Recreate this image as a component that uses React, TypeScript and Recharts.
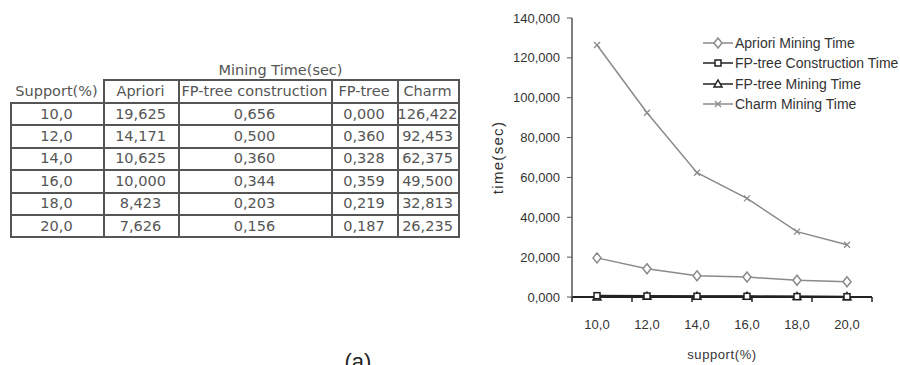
import React from 'react';
import { LineChart, Line, XAxis, YAxis } from 'recharts';

// support thresholds (%), shown with decimal comma like the source
const supports = ['10,0', '12,0', '14,0', '16,0', '18,0', '20,0'];

// mining times in seconds
const aprioriTime = [19.625, 14.171, 10.625, 10.0, 8.423, 7.626];
const fpConstructionTime = [0.656, 0.5, 0.36, 0.344, 0.203, 0.156];
const fpMiningTime = [0.0, 0.36, 0.328, 0.359, 0.219, 0.187];
const charmTime = [126.422, 92.453, 62.375, 49.5, 32.813, 26.235];

const yTicks = [0, 20, 40, 60, 80, 100, 120, 140];
const boundaryTicks = [0, 1, 2, 3, 4, 5, 6];

const fmt = (v: number) => v.toFixed(3).replace('.', ',');

const data = supports.map((s, i) => ({
  support: s,
  apriori: aprioriTime[i],
  fpConstruction: fpConstructionTime[i],
  fpMining: fpMiningTime[i],
  charm: charmTime[i],
}));

const GRAY = '#8a8a8a';
const DARK = '#222';

function Diamond({ cx, cy, color }: any) {
  return (
    <path
      d={`M${cx},${cy - 5}L${cx + 4},${cy}L${cx},${cy + 5}L${cx - 4},${cy}Z`}
      fill="#fff"
      stroke={color}
      strokeWidth={1.5}
    />
  );
}

function Square({ cx, cy, color }: any) {
  return <rect x={cx - 3} y={cy - 3} width={6} height={6} fill="#fff" stroke={color} strokeWidth={1.5} />;
}

function Triangle({ cx, cy, color }: any) {
  return (
    <path
      d={`M${cx},${cy - 4}L${cx + 4},${cy + 3}L${cx - 4},${cy + 3}Z`}
      fill="#fff"
      stroke={color}
      strokeWidth={1.5}
    />
  );
}

function Cross({ cx, cy, color }: any) {
  return (
    <g stroke={color} strokeWidth={1.3}>
      <line x1={cx - 3} y1={cy - 3} x2={cx + 3} y2={cy + 3} />
      <line x1={cx - 3} y1={cy + 3} x2={cx + 3} y2={cy - 3} />
    </g>
  );
}

const legendItems = [
  { name: 'Apriori Mining Time', color: GRAY, Mark: Diamond },
  { name: 'FP-tree Construction Time', color: DARK, Mark: Square },
  { name: 'FP-tree Mining Time', color: DARK, Mark: Triangle },
  { name: 'Charm Mining Time', color: GRAY, Mark: Cross },
];

function ChartLegend() {
  return (
    <div
      style={{
        position: 'absolute',
        left: 703,
        top: 33,
        fontFamily: 'Liberation Sans, Arial, sans-serif',
        fontSize: 14,
        color: '#333',
      }}
    >
      {legendItems.map(({ name, color, Mark }) => (
        <div key={name} style={{ display: 'flex', alignItems: 'center', height: 20.3, whiteSpace: 'nowrap' }}>
          <svg width={30} height={20} style={{ marginRight: 2 }}>
            <line x1={0} y1={10} x2={30} y2={10} stroke={color} strokeWidth={1.5} />
            <Mark cx={15} cy={10} color={color} />
          </svg>
          {name}
        </div>
      ))}
    </div>
  );
}

const colLeft = [10, 103, 178, 331, 397, 458];
const headers = ['Support(%)', 'Apriori', 'FP-tree construction', 'FP-tree', 'Charm'];
const LINE = '#555';

function DataTable() {
  const headerTop = 79;
  const bodyTop = 102;
  const rowH = 22.4;
  const bottom = bodyTop + rowH * supports.length;
  const text: React.CSSProperties = {
    position: 'absolute',
    textAlign: 'center',
    fontFamily: 'DejaVu Sans, Verdana, sans-serif',
    fontSize: 14.5,
    color: '#555',
    whiteSpace: 'nowrap',
  };
  const rows = supports.map((s, i) => [
    s,
    fmt(aprioriTime[i]),
    fmt(fpConstructionTime[i]),
    fmt(fpMiningTime[i]),
    fmt(charmTime[i]),
  ]);
  return (
    <div style={{ position: 'absolute', left: 0, top: 0, width: 480, height: 260 }}>
      <div style={{ ...text, left: colLeft[1], width: colLeft[5] - colLeft[1], top: 61, lineHeight: '18px' }}>
        Mining Time(sec)
      </div>
      {/* horizontal rules */}
      <div style={{ position: 'absolute', left: colLeft[1], width: colLeft[5] - colLeft[1], top: headerTop, height: 2, background: LINE }} />
      {supports.map((_, i) => (
        <div
          key={'h' + i}
          style={{ position: 'absolute', left: colLeft[0], width: colLeft[5] - colLeft[0], top: bodyTop + rowH * i, height: 2, background: LINE }}
        />
      ))}
      <div style={{ position: 'absolute', left: colLeft[0], width: colLeft[5] - colLeft[0] + 2, top: bottom, height: 2, background: LINE }} />
      {/* vertical rules */}
      {colLeft.map((x, j) => (
        <div
          key={'v' + j}
          style={{
            position: 'absolute',
            left: x,
            width: 2,
            top: j === 0 ? bodyTop : headerTop,
            height: bottom - (j === 0 ? bodyTop : headerTop),
            background: LINE,
          }}
        />
      ))}
      {headers.map((h, j) => (
        <div
          key={h}
          style={{ ...text, left: colLeft[j], width: colLeft[j + 1] - colLeft[j], top: headerTop + 2, lineHeight: '21px' }}
        >
          {h}
        </div>
      ))}
      {rows.map((r, i) =>
        r.map((c, j) => (
          <div
            key={i + '-' + j}
            style={{ ...text, left: colLeft[j], width: colLeft[j + 1] - colLeft[j], top: bodyTop + rowH * i + 1.5, lineHeight: '21px' }}
          >
            {c}
          </div>
        )),
      )}
    </div>
  );
}

const tickStyle = { fontFamily: 'Liberation Sans, Arial, sans-serif', fontSize: 13, fill: '#333' };

export default function App() {
  return (
    <div style={{ position: 'absolute', left: 0, top: 0, width: 900, height: 365, overflow: 'hidden', background: '#fff' }}>
      <DataTable />
      <div style={{ position: 'absolute', left: 490, top: 0 }}>
        <LineChart width={410} height={365} data={data} margin={{ top: 18, right: 28, bottom: 7, left: 0 }}>
          <XAxis
            xAxisId="b"
            dataKey="support"
            padding={{ left: 25, right: 25 }}
            axisLine={false}
            tickLine={false}
            tickMargin={16}
            height={60}
            tick={tickStyle}
            label={{
              value: 'support(%)',
              position: 'insideBottom',
              offset: -1,
              style: { ...tickStyle, fontSize: 13, letterSpacing: 0.6 },
            }}
          />
          <XAxis
            xAxisId="a"
            type="number"
            domain={[0, 6]}
            ticks={boundaryTicks}
            tick={() => <g />}
            height={1}
            tickSize={5}
            axisLine={{ stroke: DARK, strokeWidth: 2 }}
            tickLine={{ stroke: DARK, strokeWidth: 1.5 }}
          />
          <YAxis
            domain={[0, 140]}
            ticks={yTicks}
            tickFormatter={fmt}
            width={82}
            tickSize={5}
            tickMargin={7}
            tick={tickStyle}
            axisLine={{ stroke: '#555', strokeWidth: 1.5 }}
            tickLine={{ stroke: '#555' }}
            label={{
              value: 'time(sec)',
              angle: -90,
              position: 'insideLeft',
              offset: 8,
              style: { ...tickStyle, fontSize: 15, letterSpacing: 1.3, textAnchor: 'middle' },
            }}
          />
          <Line
            xAxisId="b"
            dataKey="charm"
            stroke={GRAY}
            strokeWidth={1.5}
            isAnimationActive={false}
            dot={(p: any) => <Cross key={'c' + p.index} cx={p.cx} cy={p.cy} color={GRAY} />}
          />
          <Line
            xAxisId="b"
            dataKey="apriori"
            stroke={GRAY}
            strokeWidth={1.5}
            isAnimationActive={false}
            dot={(p: any) => <Diamond key={'a' + p.index} cx={p.cx} cy={p.cy} color={GRAY} />}
          />
          <Line
            xAxisId="b"
            dataKey="fpMining"
            stroke={DARK}
            strokeWidth={1.5}
            isAnimationActive={false}
            dot={(p: any) => <Triangle key={'m' + p.index} cx={p.cx} cy={p.cy} color={DARK} />}
          />
          <Line
            xAxisId="b"
            dataKey="fpConstruction"
            stroke={DARK}
            strokeWidth={2}
            isAnimationActive={false}
            dot={(p: any) => <Square key={'f' + p.index} cx={p.cx} cy={p.cy} color={DARK} />}
          />
        </LineChart>
      </div>
      <ChartLegend />
      <div
        style={{
          position: 'absolute',
          left: 330,
          width: 56,
          top: 349,
          textAlign: 'center',
          fontFamily: 'Liberation Sans, Arial, sans-serif',
          fontSize: 22,
          color: '#222',
        }}
      >
        (a)
      </div>
    </div>
  );
}
